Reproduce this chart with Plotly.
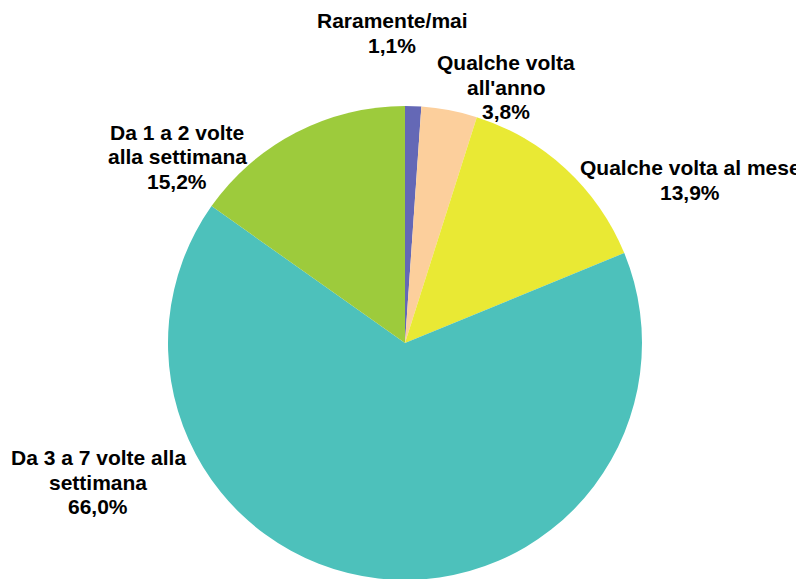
import plotly.graph_objects as go

# categories and shares (%)
labels = ["Raramente/mai", "Qualche volta all'anno", "Qualche volta al mese",
          "Da 3 a 7 volte alla settimana", "Da 1 a 2 volte alla settimana"]
values = [1.1, 3.8, 13.9, 66.0, 15.2]
label_lines = [["Raramente/mai"], ["Qualche volta", "all'anno"], ["Qualche volta al mese"],
               ["Da 3 a 7 volte alla", "settimana"], ["Da 1 a 2 volte", "alla settimana"]]
colors = ["#6468b6", "#fccf9c", "#e9e934", "#4dc1bb", "#9dcb3c"]

W, H = 804, 579
OFF = 8  # page body margin
cx, cy, r = 405 - OFF, 343 - OFF, 237

fig = go.Figure(go.Pie(
    labels=labels, values=values, sort=False, direction="clockwise", rotation=0,
    marker=dict(colors=colors, line=dict(width=0)),
    textinfo="none", hoverinfo="label+percent", showlegend=False,
    domain=dict(x=[(cx - r) / W, (cx + r) / W], y=[1 - (cy + r) / H, 1 - (cy - r) / H]),
))

# label anchor points (pixel centres of the text blocks)
label_pos = [(392, 33), (506, 87), (690, 180), (98, 482), (177, 157)]
line_h = 24.5
for lines, v, (px, py) in zip(label_lines, values, label_pos):
    rows = lines + [f"{v:.1f}%".replace(".", ",")]
    n = len(rows)
    for i, row in enumerate(rows):
        y = py + (i - (n - 1) / 2) * line_h
        fig.add_annotation(
            x=(px - OFF) / W, y=1 - (y - OFF) / H, xref="paper", yref="paper",
            text=f"<b>{row}</b>", showarrow=False,
            xanchor="center", yanchor="middle",
            font=dict(family="Liberation Sans, Arial", size=21, color="black"),
        )

fig.update_layout(
    width=W, height=H, margin=dict(l=0, r=0, t=0, b=0),
    paper_bgcolor="white", plot_bgcolor="white",
)

fig.write_html("out.html")
